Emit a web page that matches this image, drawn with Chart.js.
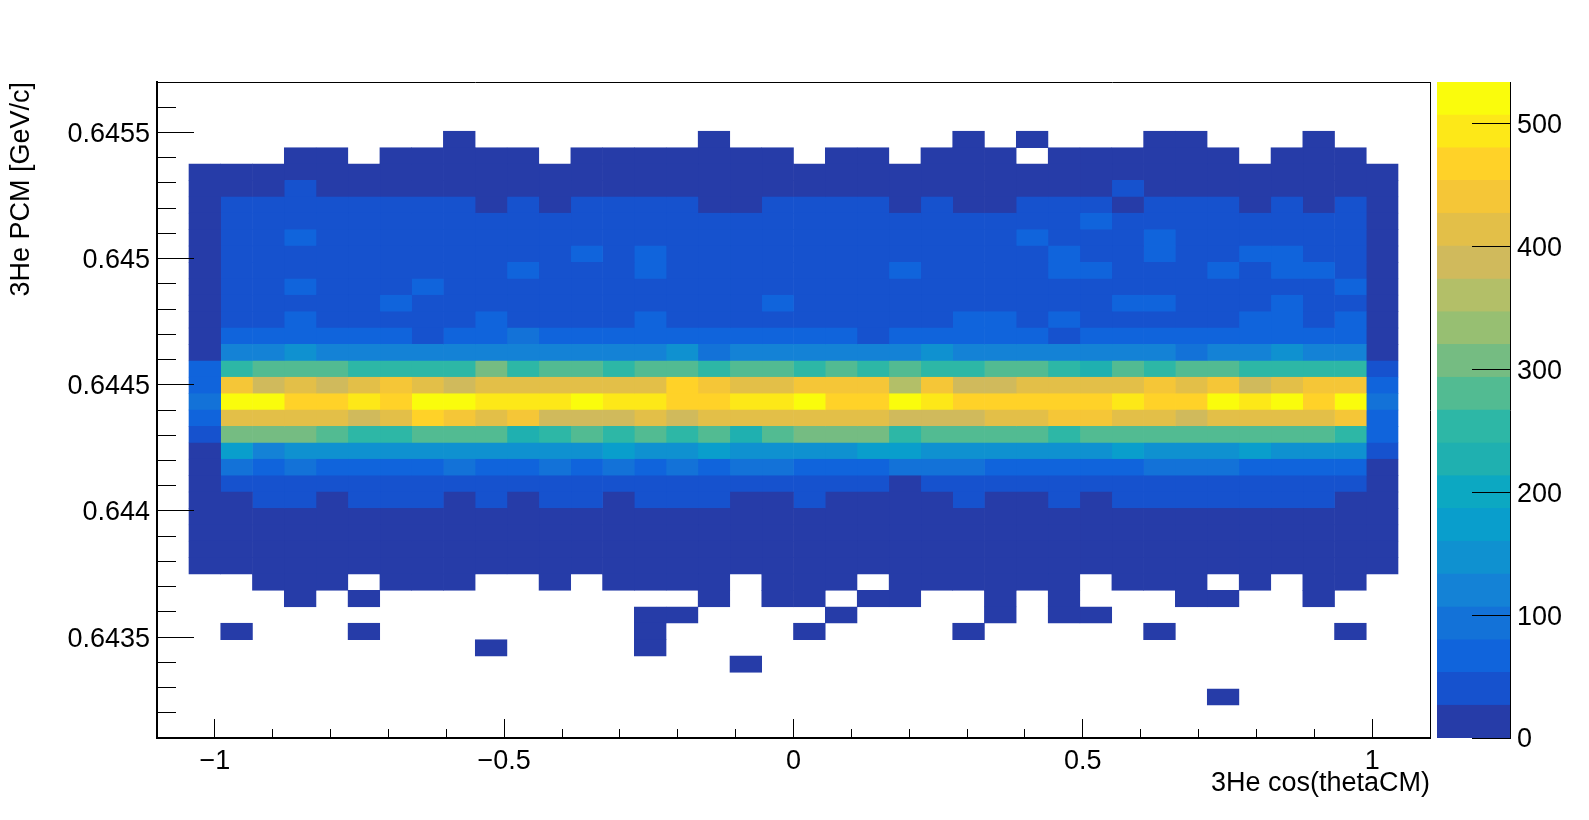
<!DOCTYPE html>
<html>
<head>
<meta charset="utf-8">
<script src="https://cdn.jsdelivr.net/npm/chart.js@4"></script>
<style>
  html, body { margin: 0; padding: 0; background: #fff; overflow: hidden; }
  canvas { position: absolute; top: 0; }
  #heat { left: 0; }
  #palette { left: 1431px; }
</style>
</head>
<body>
<canvas id="heat" width="1589" height="820"></canvas>
<canvas id="palette" width="158" height="820"></canvas>
<script>
// ── Axis ranges and ticks ───────────────────────
const xMin = -1.1, xMax = 1.1, xBinCount = 40;
const yMin = 0.6431, yMax = 0.6457, yBinCount = 40;
const zMax = 534;

const xMajorTicks = [-1, -0.5, 0, 0.5, 1];
const xMinorTicks = [-1, -0.9, -0.8, -0.7, -0.6, -0.5, -0.4, -0.3, -0.2, -0.1, 0, 0.1, 0.2, 0.3, 0.4, 0.5, 0.6, 0.7, 0.8, 0.9, 1];
const yMajorTicks = [0.6435, 0.644, 0.6445, 0.645, 0.6455];
const yMinorTicks = [0.6432, 0.6433, 0.6434, 0.6436, 0.6437, 0.6438, 0.6439, 0.6441, 0.6442, 0.6443, 0.6444, 0.6446, 0.6447, 0.6448, 0.6449,
  0.6451, 0.6452, 0.6453, 0.6454, 0.6456];
const zTicks = [0, 100, 200, 300, 400, 500];

const palette = ['#263ca8', '#1652ce', '#1064dc', '#1372d8', '#1482d6', '#0f91d0', '#099ecc', '#0ca8c2', '#1fb0b0', '#2db7a6',
  '#52bb92', '#75bc82', '#97bf72', '#b3bf68', '#d0ba5c', '#e3bf48', '#f5c637', '#ffd228', '#fde818', '#fafc0c'];

// Counts per row, top row first, 38 filled x bins per row
const counts = [
  [],
  [],
  [],
  [0,0,0,0,0,0,0,0,2,0, 0,0,0,0,0,0,2,0,0,0, 0,0,0,0,2,0,2,0,0,0, 2,2,0,0,0,2,0,0],
  [0,0,0,2,2,0,2,2,2,2, 2,0,2,2,2,2,2,2,2,0, 2,2,0,2,2,2,0,2,2,2, 2,2,2,0,2,2,2,0],
  [10,10,10,10,10,10,10,10,10,10, 10,10,10,10,10,10,10,10,10,10, 10,10,10,10,10,10,10,10,10,10, 10,10,10,10,10,10,10,10],
  [10,10,10,40,10,10,10,10,10,10, 10,10,10,10,10,10,10,10,10,10, 10,10,10,10,10,10,10,10,10,40, 10,10,10,10,10,10,10,10],
  [10,40,40,40,40,40,40,40,40,10, 40,10,40,40,40,40,10,10,40,40, 40,40,10,40,10,10,40,40,40,10, 40,40,40,10,40,10,40,10],
  [10,40,40,40,40,40,40,40,40,40, 40,40,40,40,40,40,40,40,40,40, 40,40,40,40,40,40,40,40,67,40, 40,40,40,40,40,40,40,10],
  [10,40,40,67,40,40,40,40,40,40, 40,40,40,40,40,40,40,40,40,40, 40,40,40,40,40,40,67,40,40,40, 67,40,40,40,40,40,40,10],
  [10,40,40,40,40,40,40,40,40,40, 40,40,67,40,67,40,40,40,40,40, 40,40,40,40,40,40,40,67,40,40, 67,40,40,67,67,40,40,10],
  [10,40,40,40,40,40,40,40,40,40, 67,40,40,40,67,40,40,40,40,40, 40,40,67,40,40,40,40,67,67,40, 40,40,67,40,67,67,40,10],
  [10,40,40,67,40,40,40,67,40,40, 40,40,40,40,40,40,40,40,40,40, 40,40,40,40,40,40,40,40,40,40, 40,40,40,40,40,40,67,10],
  [10,40,40,40,40,40,67,40,40,40, 40,40,40,40,40,40,40,40,67,40, 40,40,40,40,40,40,40,40,40,67, 67,40,40,40,67,40,40,10],
  [10,40,40,67,40,40,40,40,40,67, 40,40,40,40,67,40,40,40,40,40, 40,40,40,40,67,67,40,67,40,40, 40,40,40,67,67,40,67,10],
  [10,67,67,67,67,67,67,40,67,67, 93,67,67,67,67,67,67,67,67,67, 67,40,67,67,67,67,67,40,67,67, 67,67,67,67,67,67,67,10],
  [10,120,120,147,120,120,120,120,120,120, 120,120,120,120,120,147,93,120,120,120, 120,120,120,147,120,120,120,120,120,120, 120,93,120,120,147,120,120,10],
  [67,253,280,280,280,253,253,253,253,307, 253,280,280,253,280,280,253,280,280,253, 280,253,280,253,253,280,280,253,227,280, 253,280,280,253,253,253,253,40],
  [67,440,387,413,387,413,440,413,387,413, 413,413,413,413,413,467,440,413,413,440, 440,440,360,440,387,387,413,413,413,413, 440,413,440,387,413,440,440,67],
  [93,520,520,467,467,493,467,520,520,493, 493,493,520,493,493,467,467,493,493,520, 467,467,520,493,467,467,467,467,467,493, 467,467,520,493,520,467,520,93],
  [67,413,413,413,413,387,413,467,440,413, 440,387,387,387,413,387,413,413,413,413, 413,413,387,387,387,413,413,440,440,413, 413,387,413,413,413,413,440,67],
  [40,307,307,307,280,253,253,280,280,280, 227,253,280,253,280,253,280,227,280,307, 307,307,253,280,280,280,280,253,280,280, 280,280,280,280,280,280,253,67],
  [10,173,120,147,147,147,147,147,147,147, 147,147,147,173,147,147,173,147,147,147, 147,173,173,147,147,147,147,147,147,173, 147,147,147,173,147,147,147,40],
  [10,93,67,93,67,67,67,67,93,67, 67,93,67,93,67,93,67,93,93,67, 67,67,93,93,93,67,67,67,67,67, 93,93,93,67,67,67,67,10],
  [10,40,40,40,40,40,40,40,40,40, 40,40,40,40,40,40,40,40,40,40, 40,40,10,40,40,40,40,40,40,40, 40,40,40,40,40,40,40,10],
  [10,10,40,40,10,40,40,40,10,40, 10,40,40,10,40,40,40,10,10,40, 10,10,10,10,40,10,10,40,10,40, 40,40,40,40,40,40,10,10],
  [10,10,10,10,10,10,10,10,10,10, 10,10,10,10,10,10,10,10,10,10, 10,10,10,10,10,10,10,10,10,10, 10,10,10,10,10,10,10,10],
  [10,10,10,10,10,10,10,10,10,10, 10,10,10,10,10,10,10,10,10,10, 10,10,10,10,10,10,10,10,10,10, 10,10,10,10,10,10,10,10],
  [10,10,10,10,10,10,10,10,10,10, 10,10,10,10,10,10,10,10,10,10, 10,10,10,10,10,10,10,10,10,10, 10,10,10,10,10,10,10,10],
  [10,10,10,10,10,10,10,10,10,10, 10,10,10,10,10,10,10,10,10,10, 10,10,10,10,10,10,10,10,10,10, 10,10,10,10,10,10,10,10],
  [0,0,2,2,2,0,2,2,2,0, 0,2,0,2,2,2,2,0,2,2, 2,0,2,2,2,2,2,2,0,2, 2,2,0,2,0,2,2,0],
  [0,0,0,2,0,2,0,0,0,0, 0,0,0,0,0,0,2,0,2,2, 0,2,2,0,0,2,0,2,0,0, 0,2,2,0,0,2,0,0],
  [0,0,0,0,0,0,0,0,0,0, 0,0,0,0,2,2,0,0,0,0, 2,0,0,0,0,2,0,2,2,0, 0,0,0,0,0,0,0,0],
  [0,2,0,0,0,2,0,0,0,0, 0,0,0,0,2,0,0,0,0,2, 0,0,0,0,2,0,0,0,0,0, 2,0,0,0,0,0,2,0],
  [0,0,0,0,0,0,0,0,0,2, 0,0,0,0,2,0,0,0,0,0, 0,0,0,0,0,0,0,0,0,0, 0,0,0,0,0,0,0,0],
  [0,0,0,0,0,0,0,0,0,0, 0,0,0,0,0,0,0,2,0,0, 0,0,0,0,0,0,0,0,0,0, 0,0,0,0,0,0,0,0],
  [],
  [0,0,0,0,0,0,0,0,0,0, 0,0,0,0,0,0,0,0,0,0, 0,0,0,0,0,0,0,0,0,0, 0,0,2,0,0,0,0,0],
  [],
  []
];

// ── Helpers ─────────────────────────────────────
const FONT = { family: '"Liberation Sans", Arial, sans-serif', size: 27 };
const zStep = zMax / palette.length;
const xBinWidth = (xMax - xMin) / xBinCount;
const yBinHeight = (yMax - yMin) / yBinCount;
const levelColor = v => v ? palette[Math.min(palette.length - 1, Math.floor(v / zStep))] : 'rgba(0,0,0,0)';
const fixTicks = list => scale => { scale.ticks = list.map(value => ({ value })); };
const fixWidth = w => scale => { scale.width = w; };
const fixHeight = h => scale => { scale.height = h; };
const minusSign = v => String(v).replace('-', '\u2212');
// a tiny see-through border makes Chart.js inflate the bar, which closes the seams between cells
const cellStyle = {
  borderWidth: 0.01, borderColor: 'rgba(0,0,0,0)', borderSkipped: false, inflateAmount: 0.4,
  barPercentage: 1, categoryPercentage: 1, grouped: false
};

// ── Main 2D histogram ───────────────────────────
const rowLabels = counts.map((_, i) => (yMax - (i + 0.5) * yBinHeight).toFixed(6));
const columnData = [];
for (let j = 0; j < 38; j++) {
  const lo = xMin + (j + 1) * xBinWidth, hi = lo + xBinWidth;
  columnData.push({
    ...cellStyle,
    data: counts.map(row => row[j] ? [lo, hi] : null),
    backgroundColor: counts.map(row => levelColor(row[j]))
  });
}

new Chart(document.getElementById('heat'), {
  type: 'bar',
  data: { labels: rowLabels, datasets: columnData },
  options: {
    indexAxis: 'y', responsive: false, animation: false,
    layout: { padding: { top: 82, right: 159, left: 0, bottom: 0 } },
    plugins: { legend: { display: false }, tooltip: { enabled: false } },
    scales: {
      y: { type: 'category', display: false, offset: true },
      x: {
        type: 'linear', position: 'bottom', min: xMin, max: xMax,
        afterBuildTicks: fixTicks(xMajorTicks), afterFit: fixHeight(82),
        border: { display: true, color: '#000', width: 2, z: 2 },
        // near-zero lineWidth: Chart.js otherwise leaves a gap in the bars at the x = 0 tick
        grid: { lineWidth: 0.001, drawOnChartArea: false, drawTicks: true, tickLength: -19, tickColor: '#000', tickWidth: 1, z: 1 },
        ticks: { color: '#000', font: FONT, padding: 26, maxRotation: 0, autoSkip: false, callback: minusSign },
        title: { display: true, text: '3He cos(thetaCM)', align: 'end', color: '#000', font: FONT, padding: { top: 20, bottom: 20 } }
      },
      xMinor: {
        axis: 'x', type: 'linear', position: 'bottom', weight: -1, min: xMin, max: xMax,
        afterBuildTicks: fixTicks(xMinorTicks), afterFit: fixHeight(0),
        border: { display: false },
        grid: { drawOnChartArea: false, drawTicks: true, tickLength: -9, tickColor: '#000', tickWidth: 1, z: 1 },
        ticks: { display: false }
      },
      xTop: {
        axis: 'x', type: 'linear', position: 'top', min: xMin, max: xMax,
        afterFit: fixHeight(0),
        border: { display: true, color: '#000', width: 1 },
        grid: { display: false }, ticks: { display: false }
      },
      yValue: {
        axis: 'y', type: 'linear', position: 'left', min: yMin, max: yMax, offset: false,
        afterBuildTicks: fixTicks(yMajorTicks), afterFit: fixWidth(157),
        border: { display: true, color: '#000', width: 2, z: 2 },
        grid: { offset: false, drawOnChartArea: false, drawTicks: true, tickLength: -37, tickColor: '#000', tickWidth: 1, z: 1 },
        ticks: { color: '#000', font: FONT, padding: 44, labelOffset: 2, autoSkip: false, callback: v => String(v) },
        title: { display: true, text: '3He PCM [GeV/c]', align: 'end', color: '#000', font: FONT, padding: { top: 5, bottom: 5 } }
      },
      yMinor: {
        axis: 'y', type: 'linear', position: 'left', weight: -1, min: yMin, max: yMax, offset: false,
        afterBuildTicks: fixTicks(yMinorTicks), afterFit: fixWidth(0),
        border: { display: false },
        grid: { offset: false, drawOnChartArea: false, drawTicks: true, tickLength: -19, tickColor: '#000', tickWidth: 1, z: 1 },
        ticks: { display: false }
      },
      yRight: {
        axis: 'y', type: 'linear', position: 'right', min: yMin, max: yMax, offset: false,
        afterFit: fixWidth(0),
        border: { display: true, color: '#000', width: 1 },
        grid: { offset: false, display: false }, ticks: { display: false }
      }
    }
  }
});

// ── Colour palette on the right ─────────────────
new Chart(document.getElementById('palette'), {
  type: 'bar',
  data: {
    labels: ['z'],
    datasets: palette.map((color, k) => ({
      ...cellStyle,
      data: [[k * zStep, (k + 1) * zStep]],
      backgroundColor: color
    }))
  },
  options: {
    responsive: false, animation: false,
    layout: { padding: { top: 82, bottom: 82, left: 6, right: 0 } },
    plugins: { legend: { display: false }, tooltip: { enabled: false } },
    scales: {
      x: { type: 'category', display: false, offset: true },
      y: {
        type: 'linear', position: 'right', min: 0, max: zMax,
        afterBuildTicks: fixTicks(zTicks), afterFit: fixWidth(79),
        border: { display: true, color: '#000', width: 1, z: 2 },
        grid: { lineWidth: 0.001, drawOnChartArea: false, drawTicks: true, tickLength: -38, tickColor: '#000', tickWidth: 1, z: 1 },
        ticks: { color: '#000', font: FONT, padding: 45, labelOffset: 2, autoSkip: false, callback: v => String(v) }
      }
    }
  }
});
</script>
</body>
</html>
